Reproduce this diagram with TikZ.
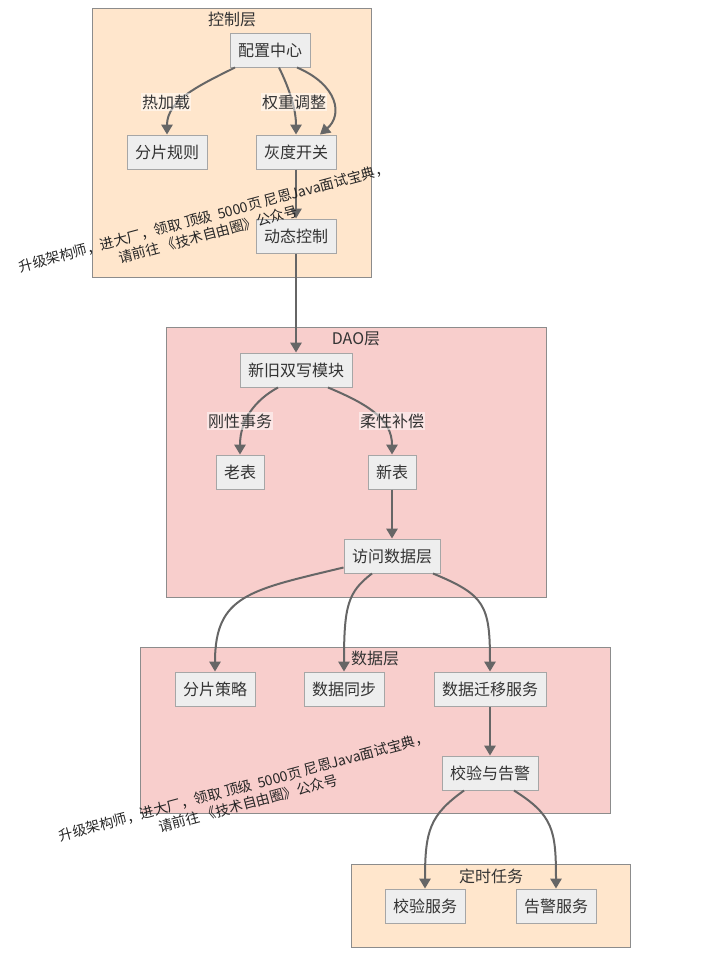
\documentclass[tikz,border=0pt]{standalone}
\usepackage{fontspec}
\setmainfont{Noto Sans CJK SC}
\usepackage{tikz}
\usetikzlibrary{arrows, arrows.meta, calc, positioning}
\definecolor{peach}{HTML}{FFE6CC}
\definecolor{rose}{HTML}{F8CECC}
\definecolor{boxfill}{HTML}{EEEEEE}
\definecolor{edgegray}{HTML}{666666}
\definecolor{ink}{HTML}{333333}

\begin{document}
\begin{tikzpicture}[x=0.75pt, y=-0.75pt,
  every node/.style={font=\fontsize{12}{14}\selectfont, text=ink},
  layer/.style={draw=black!45, line width=0.75pt},
  box/.style={draw=black!35, fill=boxfill, line width=0.75pt, minimum height=25.5pt, inner xsep=6pt},
  edge/.style={draw=edgegray, line width=1.5pt, -{Triangle[length=7.5pt, width=8.5pt]}},
  lbl/.style={fill=white, fill opacity=0.5, text opacity=1, inner sep=1pt},
  wmark/.style={font=\fontsize{10.5}{13}\selectfont, text=black!85, align=center, rotate=15}]
\useasboundingbox (0,0) rectangle (723,957);
\draw[layer, fill=peach] (92,8) rectangle (371,277); \node (t1) at (232,19) {控制层};
\draw[layer, fill=rose] (166,327) rectangle (546,597); \node (t2) at (356,339) {DAO层};
\draw[layer, fill=rose] (140,647) rectangle (610,813); \node (t3) at (375,658) {数据层};
\draw[layer, fill=peach] (351,864) rectangle (630,947); \node (t4) at (491,876) {定时任务};

\node[box] (cfg) at (270,50) {配置中心};
\node[box] (rule) at (167,152) {分片规则}; \node[box] (sw) at (296,152) {灰度开关};
\node[box] (dyn) at (296,236) {动态控制};
\node[box] (dual) at (296,370) {新旧双写模块};
\node[box] (old) at (240,472) {老表}; \node[box] (new) at (392,472) {新表};
\node[box] (acc) at (392,556) {访问数据层};
\node[box] (shard) at (215,689) {分片策略}; \node[box] (sync) at (344,689) {数据同步}; \node[box] (mig) at (490,689) {数据迁移服务};
\node[box] (chk) at (490,773) {校验与告警};
\node[box] (verify) at (425,906) {校验服务}; \node[box] (alarm) at (556,906) {告警服务};

\draw[edge] ($(cfg.south)+(-35,0)$) .. controls (200,85) and (167,100) .. (rule.north);
\draw[edge] ($(cfg.south)+(9,0)$) .. controls (290,90) and (296,110) .. (sw.north);
\draw[edge] ($(cfg.south)+(27,0)$) .. controls (338,85) and (343,115) .. ($(sw.north)+(24,0)$);
\draw[edge] (sw) -- (dyn); \draw[edge] (dyn) -- (dual);
\draw[edge] ($(dual.south)+(-18,0)$) .. controls (255,400) and (240,420) .. (old.north);
\draw[edge] ($(dual.south)+(32,0)$) .. controls (370,405) and (392,420) .. (new.north);
\draw[edge] (new) -- (acc);
\draw[edge] ($(acc.south west)+(0,-6)$) .. controls (250,590) and (215,595) .. (shard.north);
\draw[edge] ($(acc.south)+(-20,0)$) .. controls (348,592) and (344,605) .. (sync.north);
\draw[edge] ($(acc.south)+(41,0)$) .. controls (485,595) and (490,605) .. (mig.north);
\draw[edge] (mig) -- (chk);
\draw[edge] ($(chk.south)+(-26,0)$) .. controls (430,815) and (425,830) .. (verify.north);
\draw[edge] ($(chk.south)+(24,0)$) .. controls (553,815) and (556,830) .. (alarm.north);

\node[lbl] (l1) at (166,102) {热加载}; \node[lbl] (l2) at (294,102) {权重调整};
\node[lbl] (l3) at (240,421) {刚性事务}; \node[lbl] (l4) at (392,421) {柔性补偿};

\node[wmark] (wm1) at (206,226) {升级架构师，进大厂，领取 顶级\ \ 5000页 尼恩Java面试宝典，\\请前往 《技术自由圈》公众号};
\node[wmark] (wm2) at (246,795) {升级架构师，进大厂，领取 顶级\ \ 5000页 尼恩Java面试宝典，\\请前往 《技术自由圈》公众号};
\end{tikzpicture}
\end{document}
